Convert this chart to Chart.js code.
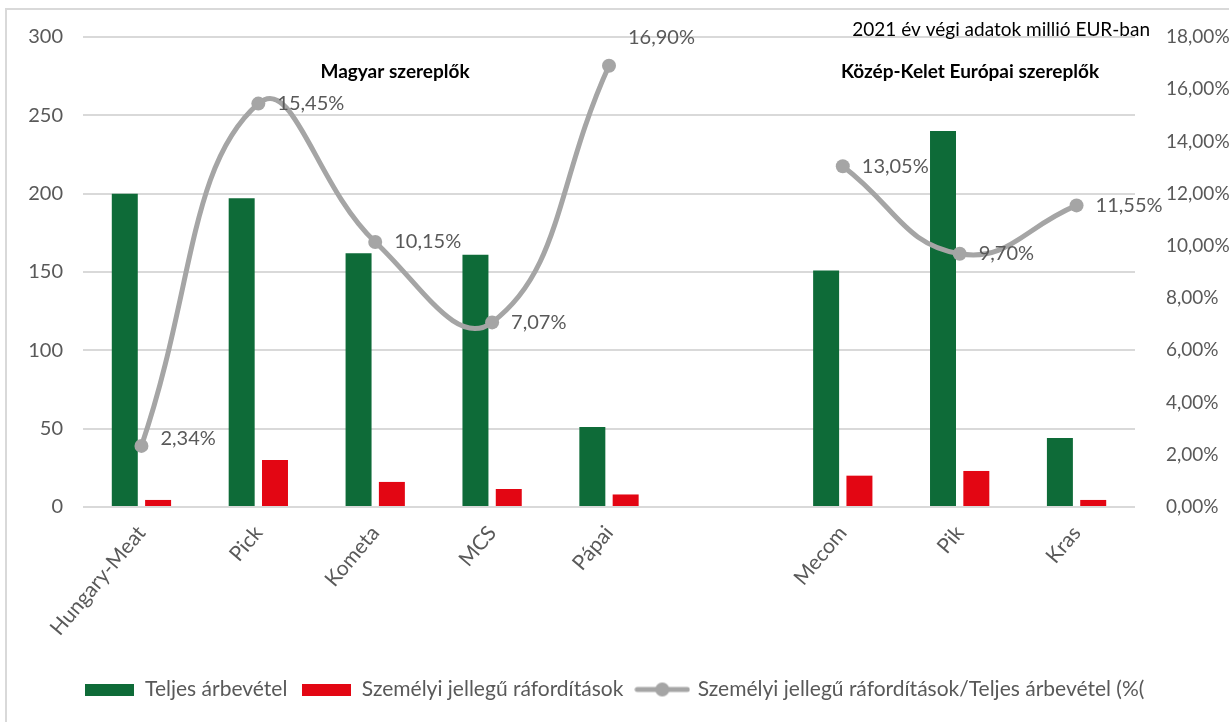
<!DOCTYPE html>
<html>
<head>
<meta charset="utf-8">
<script src="https://cdn.jsdelivr.net/npm/chart.js@4"></script>
<style>
  html, body { margin: 0; padding: 0; background: #fff; overflow: hidden; }
  #keret { position: absolute; left: 5px; top: 8px; width: 1300px; height: 800px; border: 2px solid #d9d9d9; }
  #doboz { position: absolute; left: 0; top: 0; width: 1229px; height: 722px; }
</style>
</head>
<body>
<div id="keret"></div>
<div id="doboz"><canvas id="grafikon"></canvas></div>
<script>
// szereplők (az üres kategória választja el a két csoportot)
const cegek = ['Hungary-Meat', 'Pick', 'Kometa', 'MCS', 'Pápai', '', 'Mecom', 'Pik', 'Kras'];

// millió EUR
const arbevetel = [200, 197, 162, 161, 51, null, 151, 240, 44];
const szemelyi = [4.5, 30, 16, 11.5, 8, null, 20, 23, 4.5];

// százalék
const arany = [2.34, 15.45, 10.15, 7.07, 16.90, null, 13.05, 9.70, 11.55];

const balTengely = { min: 0, max: 300, lepes: 50 };
const jobbTengely = { min: 0, max: 18, lepes: 2 };

const szurke = '#595959';
const betu = 'Lato, "Open Sans", sans-serif';

// magyar tizedesvessző
function szazalek(v) {
  return v.toFixed(2).replace('.', ',') + '%';
}

// legend jelek kis canvasra rajzolva
function doboz(szin) {
  const c = document.createElement('canvas');
  c.width = 49; c.height = 12;
  const g = c.getContext('2d');
  g.fillStyle = szin;
  g.fillRect(0, 0, 49, 12);
  return c;
}
function vonalJel() {
  const c = document.createElement('canvas');
  c.width = 56; c.height = 16;
  const g = c.getContext('2d');
  g.strokeStyle = '#a5a5a5';
  g.lineWidth = 5;
  g.lineCap = 'round';
  g.beginPath(); g.moveTo(3, 8); g.lineTo(53, 8); g.stroke();
  g.fillStyle = '#a5a5a5';
  g.beginPath(); g.arc(28, 8, 7, 0, Math.PI * 2); g.fill();
  return c;
}

// címkék a pontok mellé, plusz a feliratok
const cimkek = {
  id: 'cimkek',
  afterDatasetsDraw(chart) {
    const ctx = chart.ctx;
    const meta = chart.getDatasetMeta(2);
    ctx.save();
    ctx.font = '20px ' + betu;
    ctx.fillStyle = szurke;
    ctx.textBaseline = 'middle';
    ctx.textAlign = 'left';
    meta.data.forEach((pont, i) => {
      if (arany[i] === null) return;
      let dy = 0;
      if (i === 4) dy = -28; // ez Excelben feljebb volt húzva
      if (i === 0) dy = -7;
      ctx.fillText(szazalek(arany[i]), pont.x + 19, pont.y + dy);
    });

    const ca = chart.chartArea;
    ctx.fillStyle = '#000';
    ctx.font = '19px ' + betu;
    ctx.textAlign = 'right';
    ctx.fillText('2021 év végi adatok millió EUR-ban', ca.right + 15, 30);
    ctx.font = 'bold 19px ' + betu;
    ctx.textAlign = 'center';
    ctx.fillText('Magyar szereplők', 395, 72);
    ctx.fillText('Közép-Kelet Európai szereplők', 970, 72);
    ctx.restore();
  }
};

const ctx = document.getElementById('grafikon').getContext('2d');

new Chart(ctx, {
  data: {
    labels: cegek,
    datasets: [
      {
        type: 'bar',
        label: 'Teljes árbevétel',
        data: arbevetel,
        backgroundColor: '#0e6b38',
        yAxisID: 'y',
        categoryPercentage: 0.57,
        barPercentage: 0.78,
        order: 2
      },
      {
        type: 'bar',
        label: 'Személyi jellegű ráfordítások',
        data: szemelyi,
        backgroundColor: '#e30613',
        yAxisID: 'y',
        categoryPercentage: 0.57,
        barPercentage: 0.78,
        order: 3
      },
      {
        type: 'line',
        label: 'Személyi jellegű ráfordítások/Teljes árbevétel (%(',
        data: arany,
        yAxisID: 'y1',
        borderColor: '#a5a5a5',
        backgroundColor: '#a5a5a5',
        borderWidth: 5,
        pointRadius: 7,
        pointHoverRadius: 7,
        pointBackgroundColor: '#a5a5a5',
        pointBorderWidth: 0,
        tension: 0.45,
        spanGaps: false,
        pointStyle: 'circle',
        order: 1
      }
    ]
  },
  options: {
    responsive: true,
    maintainAspectRatio: false,
    animation: false,
    layout: { padding: { top: 37, right: 0, left: 0, bottom: 12 } },
    plugins: {
      legend: {
        display: true,
        position: 'bottom',
        labels: {
          usePointStyle: true,
          pointStyleWidth: 50,
          boxHeight: 14,
          padding: 14,
          color: szurke,
          font: { family: betu, size: 21 },
          sort: (a, b) => a.datasetIndex - b.datasetIndex,
          generateLabels(chart) {
            const alap = Chart.defaults.plugins.legend.labels.generateLabels(chart);
            alap.forEach(l => {
              if (l.datasetIndex === 0) l.pointStyle = doboz('#0e6b38');
              if (l.datasetIndex === 1) l.pointStyle = doboz('#e30613');
              if (l.datasetIndex === 2) l.pointStyle = vonalJel();
            });
            return alap;
          }
        }
      },
      tooltip: { enabled: false }
    },
    scales: {
      x: {
        grid: { display: false },
        border: { display: false },
        ticks: {
          color: szurke,
          font: { family: betu, size: 21 },
          minRotation: 50,
          maxRotation: 50,
          padding: 6
        },
        afterFit(scale) { scale.height = 158; }
      },
      y: {
        position: 'left',
        min: balTengely.min,
        max: balTengely.max,
        grid: { color: '#d9d9d9', lineWidth: 2, drawTicks: false },
        border: { display: false },
        ticks: {
          stepSize: balTengely.lepes,
          color: szurke,
          font: { family: betu, size: 20 },
          padding: 20
        },
        afterFit(scale) { scale.width = 83; }
      },
      y1: {
        position: 'right',
        min: jobbTengely.min,
        max: jobbTengely.max,
        grid: { display: false },
        border: { display: false },
        ticks: {
          stepSize: jobbTengely.lepes,
          color: szurke,
          font: { family: betu, size: 19 },
          padding: 23,
          callback: v => szazalek(v)
        },
        afterFit(scale) { scale.width = 94; }
      }
    }
  },
  plugins: [cimkek]
});
</script>
</body>
</html>
